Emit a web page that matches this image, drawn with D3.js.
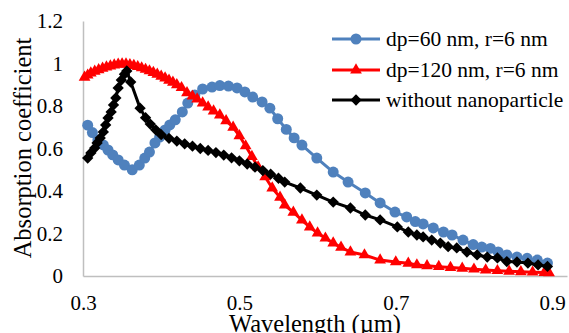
<!DOCTYPE html>
<html>
    <head>
        <meta charset="utf-8">
        <style>
        body {
            margin: 0;
            background: #fff;
        }
        svg, svg text {
            font-family: "Liberation Serif", "Times New Roman", Tinos, "DejaVu Serif", serif !important;
            fill: #000;
        }
        .axis path {
            fill: none;
            stroke: #bfbfbf;
            stroke-width: 1.5px;
        }
        .axis text {
            font-size: 21px;
        }
        .title {
            font-size: 24.5px;
        }
        .legend text {
            font-size: 21.5px;
        }
        </style>
        <script src="https://d3js.org/d3.v7.min.js"></script>
    </head>
    <body>
        <script>

            // dp=60 nm, r=6 nm
            var wl60 = [0.306, 0.312, 0.319, 0.326, 0.332, 0.338, 0.345, 0.353, 0.363, 0.372, 0.379, 0.385,
                        0.392, 0.398, 0.405, 0.411, 0.418, 0.427, 0.434, 0.443, 0.453, 0.465, 0.475, 0.486,
                        0.497, 0.507, 0.517, 0.529, 0.539, 0.549, 0.560, 0.570, 0.580, 0.599, 0.620, 0.639,
                        0.661, 0.680, 0.699, 0.714, 0.725, 0.735, 0.748, 0.761, 0.772, 0.786, 0.799, 0.810,
                        0.821, 0.831, 0.842, 0.855, 0.868, 0.881, 0.894];
            var abs60 = [0.710, 0.675, 0.640, 0.617, 0.593, 0.570, 0.546, 0.522, 0.500, 0.522, 0.555, 0.583,
                         0.626, 0.654, 0.687, 0.711, 0.735, 0.772, 0.814, 0.852, 0.880, 0.889, 0.896, 0.894,
                         0.885, 0.866, 0.842, 0.819, 0.790, 0.740, 0.690, 0.650, 0.616, 0.555, 0.489, 0.442,
                         0.391, 0.344, 0.301, 0.278, 0.256, 0.245, 0.226, 0.207, 0.193, 0.169, 0.148, 0.136,
                         0.130, 0.113, 0.099, 0.089, 0.083, 0.075, 0.061];

            // dp=120 nm, r=6 nm
            var wl120 = [0.302, 0.306, 0.310, 0.315, 0.320, 0.325, 0.330, 0.335, 0.340, 0.345, 0.350, 0.355,
                         0.360, 0.365, 0.370, 0.375, 0.380, 0.385, 0.390, 0.395, 0.400, 0.405, 0.410, 0.415,
                         0.420, 0.426, 0.433, 0.440, 0.446, 0.453, 0.460, 0.467, 0.475, 0.483, 0.492, 0.500,
                         0.508, 0.516, 0.524, 0.533, 0.542, 0.552, 0.558, 0.569, 0.580, 0.590, 0.600, 0.610,
                         0.620, 0.630, 0.642, 0.660, 0.680, 0.700, 0.716, 0.727, 0.740, 0.755, 0.770, 0.785,
                         0.800, 0.815, 0.830, 0.845, 0.860, 0.875, 0.890, 0.896];
            var abs120 = [0.935, 0.945, 0.955, 0.963, 0.970, 0.977, 0.983, 0.988, 0.993, 0.996, 0.998, 0.997,
                          0.994, 0.990, 0.985, 0.979, 0.972, 0.965, 0.957, 0.949, 0.940, 0.931, 0.921, 0.911,
                          0.900, 0.886, 0.862, 0.846, 0.833, 0.814, 0.795, 0.776, 0.757, 0.730, 0.700, 0.660,
                          0.612, 0.562, 0.513, 0.466, 0.414, 0.370, 0.334, 0.300, 0.263, 0.230, 0.202, 0.178,
                          0.155, 0.135, 0.113, 0.099, 0.075, 0.066, 0.060, 0.052, 0.048, 0.044, 0.040, 0.036,
                          0.032, 0.028, 0.025, 0.022, 0.020, 0.018, 0.016, 0.015];

            // without nanoparticle
            var wlBare = [0.306, 0.310, 0.315, 0.318, 0.322, 0.326, 0.329, 0.332, 0.336, 0.339, 0.342, 0.345,
                          0.349, 0.353, 0.356, 0.361, 0.373, 0.380, 0.386, 0.393, 0.400, 0.410, 0.420, 0.430,
                          0.440, 0.450, 0.460, 0.470, 0.480, 0.490, 0.500, 0.510, 0.520, 0.530, 0.540, 0.550,
                          0.558, 0.578, 0.599, 0.620, 0.642, 0.661, 0.680, 0.702, 0.716, 0.727, 0.735, 0.746,
                          0.757, 0.767, 0.778, 0.791, 0.804, 0.817, 0.830, 0.842, 0.855, 0.869, 0.882, 0.894];
            var absBare = [0.555, 0.579, 0.602, 0.626, 0.649, 0.678, 0.711, 0.744, 0.772, 0.805, 0.838, 0.885,
                           0.922, 0.950, 0.965, 0.913, 0.790, 0.745, 0.715, 0.688, 0.665, 0.648, 0.635, 0.622,
                           0.611, 0.600, 0.591, 0.581, 0.569, 0.556, 0.542, 0.527, 0.512, 0.496, 0.479, 0.460,
                           0.442, 0.414, 0.381, 0.348, 0.320, 0.287, 0.264, 0.231, 0.207, 0.193, 0.184, 0.169,
                           0.155, 0.138, 0.132, 0.113, 0.099, 0.089, 0.085, 0.068, 0.066, 0.061, 0.052, 0.045];

            var seriesNames = ["dp=60 nm, r=6 nm", "dp=120 nm, r=6 nm", "without nanoparticle"];
            var xTicks = [0.3, 0.5, 0.7, 0.9];
            var yTicks = [0, 0.2, 0.4, 0.6, 0.8, 1, 1.2];

            var width = 569,
                height = 333;

            var serif = "'Liberation Serif', 'Times New Roman', Tinos, 'DejaVu Serif', serif";

            var x = d3.scaleLinear()
                .domain([0.3, 0.919])
                .range([83, 567]);

            var y = d3.scaleLinear()
                .domain([0, 1.2])
                .range([276, 21]);

            var svg = d3.select("body").append("svg")
                .attr("width", width)
                .attr("height", height)
                .attr("font-family", serif);

            svg.append("g")
                .attr("class", "x axis")
                .attr("transform", "translate(0," + y(0) + ")")
                .call(d3.axisBottom(x).tickValues(xTicks).tickSize(0).tickPadding(19)
                    .tickFormat(d3.format("")))
                .call(function(g) { g.selectAll(".tick line").remove(); });

            svg.append("g")
                .attr("class", "y axis")
                .attr("transform", "translate(" + x(0.3) + ",0)")
                .call(d3.axisLeft(y).tickValues(yTicks).tickSize(0).tickPadding(20)
                    .tickFormat(d3.format("")))
                .call(function(g) { g.selectAll(".tick line").remove(); });

            svg.selectAll(".axis").attr("font-family", serif).attr("font-size", 21);

            // axis titles
            svg.append("text")
                .attr("class", "title")
                .attr("x", 315)
                .attr("y", 332)
                .attr("text-anchor", "middle")
                .text("Wavelength (\u00b5m)");

            svg.append("text")
                .attr("class", "title")
                .attr("transform", "translate(31,148) rotate(-90)")
                .attr("text-anchor", "middle")
                .text("Absorption coefficient");

            var diamond = {
                draw: function(ctx, size) {
                    var r = Math.sqrt(size / 2);
                    ctx.moveTo(0, -r);
                    ctx.lineTo(r, 0);
                    ctx.lineTo(0, r);
                    ctx.lineTo(-r, 0);
                    ctx.closePath();
                }
            };

            var series = [
                {name: seriesNames[0], xs: wl60, ys: abs60, color: "#4f81bd",
                    symbol: d3.symbol().type(d3.symbolCircle).size(95)},
                {name: seriesNames[1], xs: wl120, ys: abs120, color: "#ff0000",
                    symbol: d3.symbol().type(d3.symbolTriangle).size(60)},
                {name: seriesNames[2], xs: wlBare, ys: absBare, color: "#000000",
                    symbol: d3.symbol().type(diamond).size(64)}
            ];

            var line = d3.line()
                .x(function(d) { return x(d[0]); })
                .y(function(d) { return y(d[1]); });

            series.forEach(function(s) {
                var pts = s.xs.map(function(v, i) { return [v, s.ys[i]]; });
                var g = svg.append("g");
                g.append("path")
                    .datum(pts)
                    .attr("d", line)
                    .attr("fill", "none")
                    .attr("stroke", s.color)
                    .attr("stroke-width", 3)
                    .attr("stroke-linejoin", "round");
                g.selectAll("path.marker")
                    .data(pts)
                    .enter().append("path")
                    .attr("class", "marker")
                    .attr("transform", function(d) { return "translate(" + x(d[0]) + "," + y(d[1]) + ")"; })
                    .attr("d", s.symbol())
                    .attr("fill", s.color);
            });

            // legend
            var legendRows = [39, 70, 100];
            var legend = svg.append("g").attr("class", "legend");
            series.forEach(function(s, i) {
                var row = legend.append("g")
                    .attr("transform", "translate(0," + legendRows[i] + ")");
                row.append("line")
                    .attr("x1", 332).attr("x2", 380)
                    .attr("stroke", s.color)
                    .attr("stroke-width", 3);
                row.append("path")
                    .attr("transform", "translate(356,0)")
                    .attr("d", s.symbol())
                    .attr("fill", s.color);
                row.append("text")
                    .attr("x", 386)
                    .attr("dy", "0.34em")
                    .text(s.name);
            });

        </script>
    </body>
</html>
